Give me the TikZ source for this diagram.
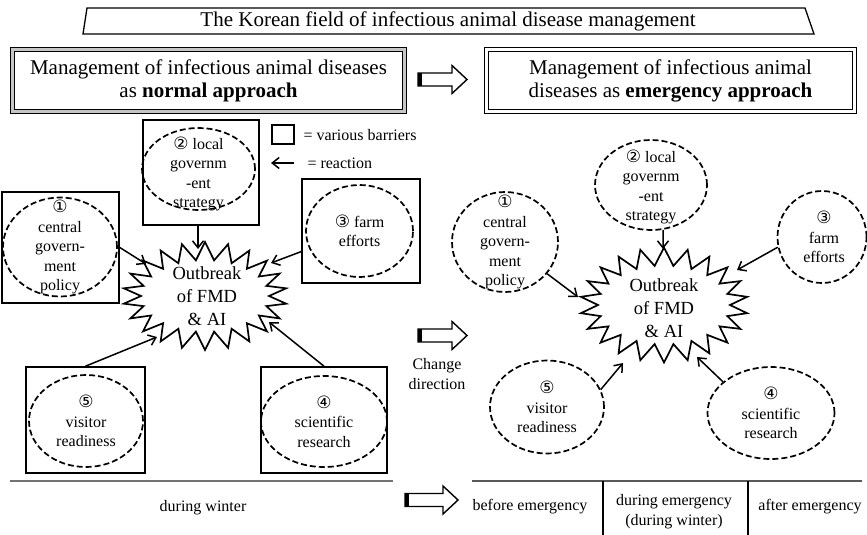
\documentclass[tikz,border=0pt]{standalone}
\usepackage{fontspec}
\setmainfont{Liberation Serif}
\newfontfamily\circfont{DejaVu Sans}
\usetikzlibrary{shapes.geometric, shapes.symbols, arrows.meta}
\newcommand{\bigtxt}{\fontsize{21}{23}\selectfont}
\newcommand{\midtxt}{\fontsize{18.5}{23}\selectfont}
\newcommand{\smalltxt}{\fontsize{16}{19.5}\selectfont}
\newcommand{\circtxt}{\circfont\fontsize{17}{19.5}\selectfont}

\begin{document}
\begin{tikzpicture}[x=1pt, y=-1pt,
        barrier/.style={draw, line width=1.6pt, inner sep=0pt},
        actor/.style={ellipse, draw, line width=1.7pt, dash pattern=on 6pt off 3pt, inner sep=0pt},
        burst/.style={starburst, draw, line width=1.7pt, starburst points=22, starburst point height=18pt, random starburst=0, inner sep=0pt},
        react/.style={-{Straight Barb[length=7pt, width=11pt]}, line width=1.5pt},
        frame/.style={draw, line width=1.2pt, double distance=3pt, align=center, font=\bigtxt},
        every label/.style={align=center, font=\smalltxt, inner sep=0pt}]
    \useasboundingbox (0,0) rectangle (867,535);

    % heading
    \draw[line width=1.3pt] (87,8) -- (805,8) -- (814,34) -- (83,34) -- cycle;
    \node[font=\bigtxt] (title) at (448,21) {The Korean field of infectious animal disease management};
    \node[frame, double=gray!45, minimum width=392pt, minimum height=62pt] (normal) at (208.5,80.5)
        {Management of infectious animal diseases\\as \textbf{normal approach}};
    \node[frame, double=white, minimum width=368pt, minimum height=62pt] (emerg) at (670.5,80.5)
        {Management of infectious animal\\diseases as \textbf{emergency approach}};

    % hollow arrows
    \foreach \x/\y/\l in {418/79.5/49, 418/335.5/49, 405/500/53} {
        \draw[line width=1.4pt] (\x,{\y-6.5}) -- ({\x+\l-15},{\y-6.5}) -- ({\x+\l-15},{\y-14})
            -- ({\x+\l},\y) -- ({\x+\l-15},{\y+14}) -- ({\x+\l-15},{\y+6.5}) -- (\x,{\y+6.5}) -- cycle;
        \fill (\x,{\y-6.5}) rectangle ({\x+4},{\y+6.5});
    }
    \node[font=\smalltxt, align=center] (change) at (437,374) {Change\\direction};

    % legend
    \node[barrier, minimum width=22pt, minimum height=19pt] (legbox) at (283,134.5) {};
    \node[font=\smalltxt, anchor=west] (legbar) at (300,135) {= various barriers};
    \coordinate (legtail) at (294,163);
    \coordinate (leghead) at (271,163);
    \draw[react] (legtail) -- (leghead);
    \node[font=\smalltxt, anchor=west] (legreact) at (304,163) {= reaction};

    % normal approach
    \node[barrier, minimum width=117pt, minimum height=111pt] (cgbox) at (60.5,247.5) {};
    \node[barrier, minimum width=116pt, minimum height=105pt] (lgbox) at (201,172.5) {};
    \node[barrier, minimum width=118pt, minimum height=104pt] (fbox) at (361,231) {};
    \node[barrier, minimum width=119pt, minimum height=106pt] (vbox) at (85.5,420) {};
    \node[barrier, minimum width=126pt, minimum height=106pt] (srbox) at (324,420) {};

    \node[actor, minimum width=114pt, minimum height=99pt,
        label={center:{{\circtxt ①}\\central\\govern-\\ment\\policy}}] (cgL) at (60,247) {};
    \node[actor, minimum width=113pt, minimum height=82pt,
        label={[yshift=-5pt]center:{{\circtxt ②} local\\governm\\-ent\\strategy}}] (lgL) at (198.5,169) {};
    \node[actor, minimum width=107pt, minimum height=92pt,
        label={center:{{\circtxt ③} farm\\efforts}}] (fL) at (359.5,231) {};
    \node[actor, minimum width=114pt, minimum height=92pt,
        label={center:{{\circtxt ⑤}\\visitor\\readiness}}] (vL) at (86,421) {};
    \node[actor, minimum width=126pt, minimum height=91pt,
        label={center:{{\circtxt ④}\\scientific\\research}}] (srL) at (324,421.5) {};

    \node[burst, minimum width=164pt, minimum height=108pt,
        label={[font=\midtxt, xshift=2pt]center:{Outbreak\\of FMD\\\& AI}}] (outL) at (205,296) {};

    \coordinate (t1L) at (146,264);
    \coordinate (t2L) at (198,249);
    \coordinate (t3L) at (271,263);
    \coordinate (t5L) at (157,337);
    \coordinate (t4L) at (269,322);
    \draw[react] (cgbox.east) -- (t1L);
    \draw[react] (t2L |- lgbox.south) -- (t2L);
    \draw[react] (fbox.199) -- (t3L);
    \draw[react] (vbox.north) -- (t5L);
    \draw[react] (srbox.north) -- (t4L);

    % emergency approach
    \node[actor, minimum width=106pt, minimum height=100pt,
        label={center:{{\circtxt ①}\\central\\govern-\\ment\\policy}}] (cgR) at (505,242) {};
    \node[actor, minimum width=112pt, minimum height=90pt,
        label={[yshift=-2pt]center:{{\circtxt ②} local\\governm\\-ent\\strategy}}] (lgR) at (651,185) {};
    \node[actor, minimum width=89pt, minimum height=92pt,
        label={[xshift=2pt]center:{{\circtxt ③}\\farm\\efforts}}] (fR) at (822,237) {};
    \node[actor, minimum width=114pt, minimum height=93pt,
        label={center:{{\circtxt ⑤}\\visitor\\readiness}}] (vR) at (547,407) {};
    \node[actor, minimum width=127pt, minimum height=92pt,
        label={center:{{\circtxt ④}\\scientific\\research}}] (srR) at (771,413) {};

    \node[burst, minimum width=168pt, minimum height=115pt,
        label={[font=\midtxt, yshift=-3pt]center:{Outbreak\\of FMD\\\& AI}}] (outR) at (664,305) {};

    \coordinate (t1R) at (578,297);
    \coordinate (t2R) at (663,249);
    \coordinate (t3R) at (737,270);
    \coordinate (t5R) at (623,363);
    \coordinate (t4R) at (697,357);
    \draw[react] (cgR.323) -- (t1R);
    \draw[react] (lgR.285) -- (t2R);
    \draw[react] (fR.193) -- (t3R);
    \draw[react] (vR.18) -- (t5R);
    \draw[react] (srR.147) -- (t4R);

    % time line
    \draw[black!55, line width=1.3pt] (10,481) -- (393,481);
    \node[font=\smalltxt] (winter) at (203,508) {during winter};
    \draw[black!65, line width=1.3pt] (472,481) -- (862,481);
    \draw[line width=1.2pt] (603,481) -- (603,535);
    \draw[line width=1.2pt] (748,481) -- (748,535);
    \node[font=\smalltxt] (before) at (530,507) {before emergency};
    \node[font=\smalltxt, align=center] (during) at (674,511.5) {during emergency\\(during winter)};
    \node[font=\smalltxt] (after) at (810,507) {after emergency};
\end{tikzpicture}
\end{document}
